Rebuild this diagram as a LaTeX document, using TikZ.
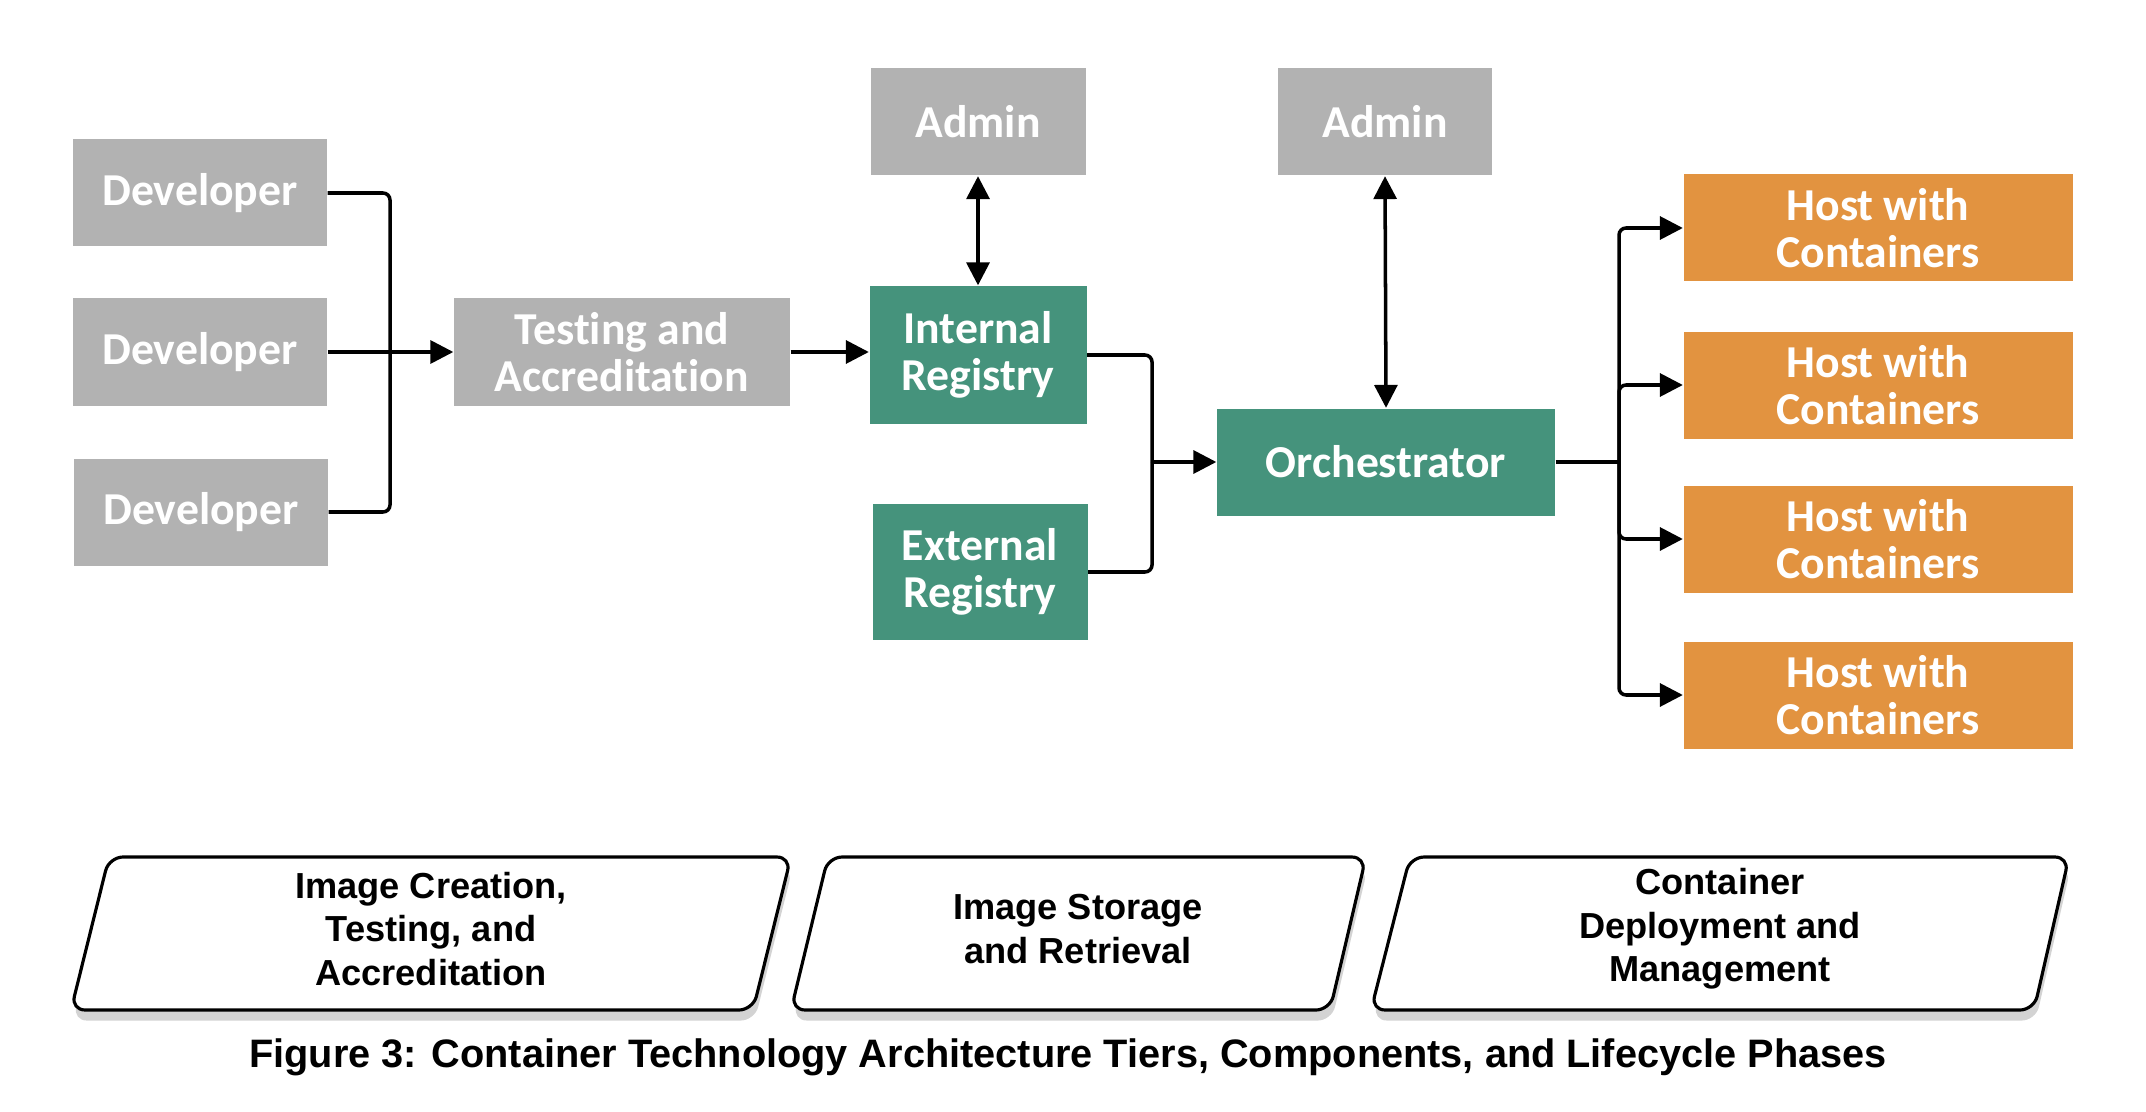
\documentclass[tikz,border=0pt]{standalone}
\usepackage{fontspec}
\usetikzlibrary{arrows.meta,shadows}
\newfontfamily\boxfont{Carlito}[RawFeature={-liga;-clig;-calt;-dlig}]
\newfontfamily\phasefont{Liberation Sans}
\definecolor{boxgray}{HTML}{B2B2B2}
\definecolor{regteal}{HTML}{45937C}
\definecolor{hostorange}{HTML}{E29340}
\tikzset{
  >={Triangle[length=6.5pt,width=6.5pt]},
  block/.style={minimum width=2.54cm, minimum height=1.07cm, inner sep=0pt,
    align=center, text=white, font=\boxfont\bfseries\fontsize{13}{13.5}\selectfont},
  conn/.style={line width=1pt, rounded corners=2pt},
  phase/.style={draw, line width=0.9pt, rounded corners=4pt, fill=white,
    drop shadow={shadow xshift=0.5pt, shadow yshift=-3pt, opacity=0.35}},
  phasetext/.style={align=center, font=\phasefont\bfseries\fontsize{10.3}{12.4}\selectfont}
}

\begin{document}
\begin{tikzpicture}[scale=1.0]
  \useasboundingbox (0,0) rectangle (21.46,-11.12);
  \node[block, fill=boxgray] (dev1) at (2.00,-1.93) {Developer};
  \node[block, fill=boxgray] (dev2) at (2.00,-3.52) {Developer};
  \node[block, fill=boxgray] (dev3) at (2.01,-5.12) {Developer};
  \node[block, fill=boxgray, minimum width=3.36cm] (test) at (6.22,-3.52) {Testing and\\Accreditation};
  \node[block, fill=boxgray, minimum width=2.15cm] (adm1) at (9.78,-1.22) {Admin};
  \node[block, fill=regteal, minimum width=2.17cm, minimum height=1.38cm] (intreg) at (9.78,-3.55) {Internal\\Registry};
  \node[block, fill=regteal, minimum width=2.15cm, minimum height=1.36cm] (extreg) at (9.80,-5.72) {External\\Registry};
  \node[block, fill=boxgray, minimum width=2.14cm] (adm2) at (13.85,-1.22) {Admin};
  \node[block, fill=regteal, minimum width=3.38cm] (orch) at (13.86,-4.62) {Orchestrator};
  \foreach \i/\y in {1/2.28,2/3.85,3/5.39,4/6.95}
    \node[block, fill=hostorange, minimum width=3.89cm] (host\i) at (18.78,-\y) {Host with\\Containers};

  \coordinate (devj) at (3.90,-3.52);
  \coordinate (regj) at (11.52,-4.62);
  \coordinate (hostj) at (16.19,-4.62);
  \draw[conn] (dev1.east) -| (devj);
  \draw[conn] (dev3.east) -| (devj);
  \draw[conn,->] (dev2.east) -- (test.west);
  \draw[conn,->] (test.east) -- (test.east -| intreg.west);
  \draw[conn,<->] (adm1.south) -- (intreg.north);
  \draw[conn,<->] (adm2.south) -- (orch.north);
  \draw[conn] (intreg.east) -| (regj);
  \draw[conn] (extreg.east) -| (regj);
  \draw[conn,->] (regj) -- (orch.west);
  \draw[conn] (orch.east) -- (hostj);
  \foreach \i in {1,...,4}
    \draw[conn,->] (hostj) |- (host\i.west);

  \draw[phase] (1.09,-8.57) -- (7.91,-8.57) -- (7.53,-10.10) -- (0.71,-10.10) -- cycle;
  \draw[phase] (8.28,-8.57) -- (13.66,-8.57) -- (13.30,-10.10) -- (7.91,-10.10) -- cycle;
  \draw[phase] (14.10,-8.57) -- (20.69,-8.57) -- (20.34,-10.10) -- (13.71,-10.10) -- cycle;
  \node[phasetext] (ph1) at (4.31,-9.29) {Image Creation,\\Testing, and\\Accreditation};
  \node[phasetext] (ph2) at (10.78,-9.29) {Image Storage\\and Retrieval};
  \node[phasetext] (ph3) at (17.20,-9.29) {Container\\Deployment and\\Management};
  \node[font=\phasefont\bfseries\fontsize{11.3}{13}\selectfont] (caption) at (10.68,-10.57)
    {Figure 3: Container Technology Architecture Tiers, Components, and Lifecycle Phases};
\end{tikzpicture}
\end{document}
